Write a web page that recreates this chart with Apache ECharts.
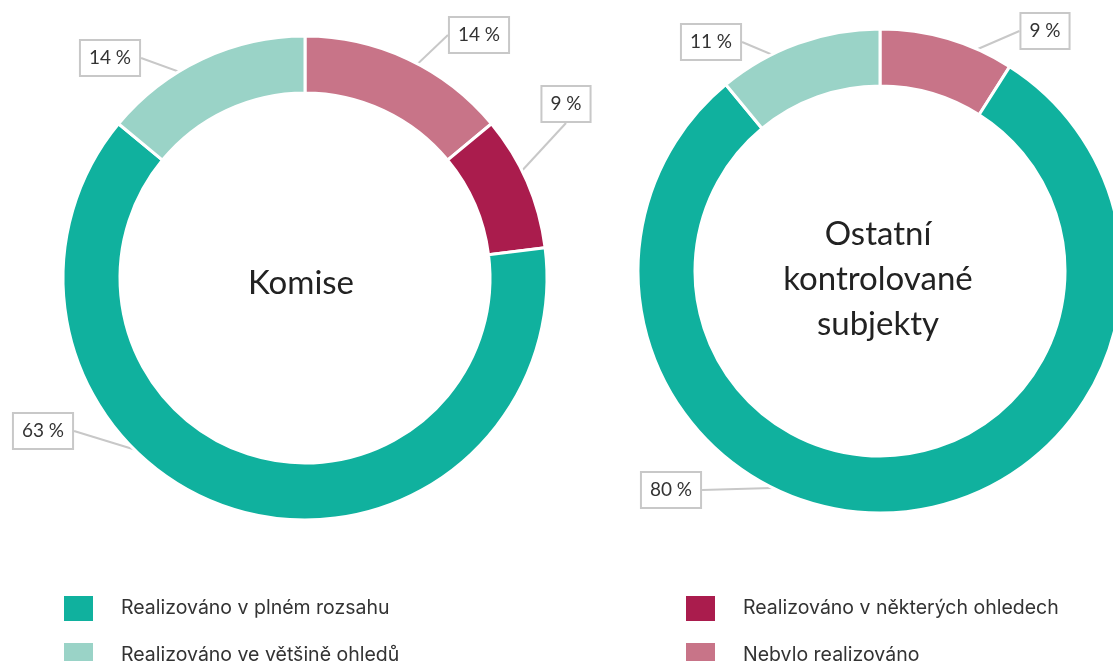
<!DOCTYPE html>
<html>
<head>
<meta charset="utf-8">
<script src="https://cdn.jsdelivr.net/npm/echarts@6/dist/echarts.min.js"></script>
<style>
  html, body { margin: 0; padding: 0; background: #fff; }
  #chart { width: 1113px; height: 661px; }
</style>
</head>
<body>
<div id="chart"></div>
<script>
// categories in clockwise order from the top of each ring
const categories = [
  'Nebylo realizováno',
  'Realizováno v některých ohledech',
  'Realizováno v plném rozsahu',
  'Realizováno ve většině ohledů'
]
const colors = ['#C87488', '#AA1C4D', '#10B19E', '#9AD3C7']
const komiseValues = [14, 9, 63, 14]
const ostatniValues = [9, 0, 80, 11]
const legendLeft = ['Realizováno v plném rozsahu', 'Realizováno ve většině ohledů']
const legendRight = ['Realizováno v některých ohledech', 'Nebylo realizováno']

// where the callout boxes sit (box centres), per category
const komiseLabelPos = [[479, 35], [566, 104], [43, 431], [110, 58]]
const ostatniLabelPos = [[1045, 31], null, [671, 490], [711, 42]]

const leftCenter = [305, 278]
const rightCenter = [880, 271]

const buildData = (values) =>
  values.map((v, i) => ({ name: categories[i], value: v, itemStyle: { color: colors[i] } }))
    .filter(d => d.value > 0)

const labelPositions = (values, pos) => values.map((v, i) => pos[i]).filter((p, i) => values[i] > 0)

const ringSeries = (center, values) => ({
  type: 'pie',
  center: center,
  radius: [185, 242],
  startAngle: 90,
  clockwise: true,
  silent: true,
  label: { show: false },
  labelLine: { show: false },
  emphasis: { disabled: true },
  itemStyle: { borderColor: '#fff', borderWidth: 3 },
  data: buildData(values)
})

const labelSeries = (center, values, pos) => {
  const p = labelPositions(values, pos)
  return {
    type: 'pie',
    center: center,
    radius: [0, 214],
    startAngle: 90,
    clockwise: true,
    silent: true,
    avoidLabelOverlap: false,
    emphasis: { disabled: true },
    itemStyle: { color: 'rgba(0,0,0,0)', borderWidth: 0 },
    label: {
      show: true,
      position: 'outside',
      formatter: '{c} %',
      fontFamily: 'Lato',
      fontSize: 19,
      lineHeight: 20,
      color: '#333',
      backgroundColor: '#fff',
      borderColor: '#c8c8c8',
      borderWidth: 2,
      padding: [7, 8, 7, 8]
    },
    labelLine: {
      show: true,
      length: 10,
      length2: 0,
      lineStyle: { color: '#c8c8c8', width: 2 }
    },
    labelLayout: (params) => ({
      x: p[params.dataIndex][0],
      y: p[params.dataIndex][1],
      align: 'center',
      verticalAlign: 'middle'
    }),
    data: buildData(values).map(d => ({ name: d.name, value: d.value }))
  }
}

const legendBase = {
  orient: 'vertical',
  top: 594,
  height: 120,
  padding: 0,
  itemWidth: 31,
  itemHeight: 27,
  itemGap: 18,
  icon: 'rect',
  selectedMode: false,
  textStyle: { fontFamily: 'Inter', fontSize: 19.5, color: '#333', padding: [0, 0, 0, 22] }
}

const chart = echarts.init(document.getElementById('chart'))
chart.setOption({
  backgroundColor: '#fff',
  animation: false,
  title: [
    {
      text: 'Komise',
      left: 296, top: 278,
      textAlign: 'center', textVerticalAlign: 'middle',
      textStyle: { fontFamily: 'Lato', fontWeight: 'normal', fontSize: 33, color: '#222' }
    },
    {
      text: 'Ostatní\nkontrolované\nsubjekty',
      left: 873, top: 274,
      textAlign: 'center', textVerticalAlign: 'middle',
      textStyle: { fontFamily: 'Lato', fontWeight: 'normal', fontSize: 33, lineHeight: 45, color: '#222' }
    }
  ],
  legend: [
    Object.assign({}, legendBase, { left: 62, data: legendLeft }),
    Object.assign({}, legendBase, { left: 684, data: legendRight })
  ],
  series: [
    ringSeries(leftCenter, komiseValues),
    ringSeries(rightCenter, ostatniValues),
    labelSeries(leftCenter, komiseValues, komiseLabelPos),
    labelSeries(rightCenter, ostatniValues, ostatniLabelPos)
  ]
})
window.addEventListener('resize', () => chart.resize())
</script>
</body>
</html>
